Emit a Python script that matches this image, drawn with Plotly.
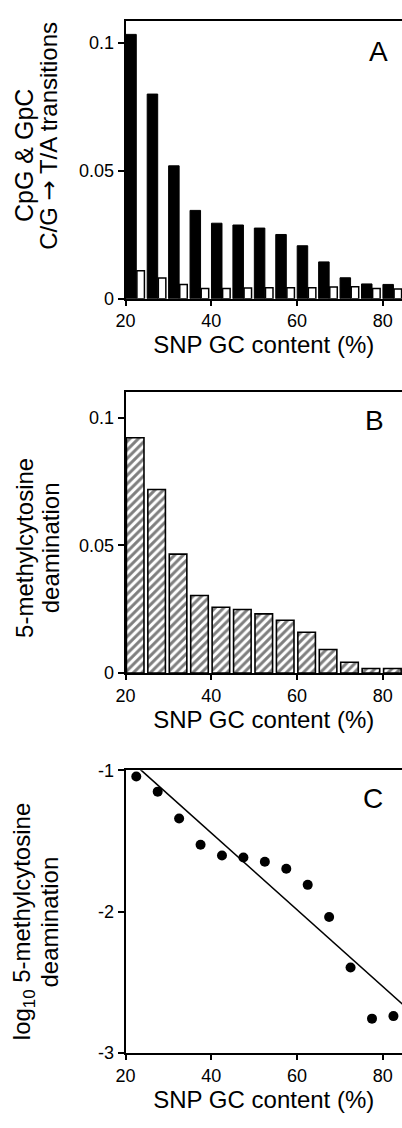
import plotly.graph_objects as go

# ---- data ----
bins = [20, 25, 30, 35, 40, 45, 50, 55, 60, 65, 70, 75, 80]
cpg_transitions = [0.1032, 0.0799, 0.0519, 0.0345, 0.0295, 0.0288, 0.0276,
                   0.0251, 0.0207, 0.0144, 0.0082, 0.0058, 0.0056]
other_transitions = [0.0109, 0.0081, 0.0056, 0.0040, 0.0040, 0.0042, 0.0043,
                     0.0043, 0.0043, 0.0046, 0.0047, 0.0040, 0.0038]
deamination = [0.0922, 0.0719, 0.0466, 0.0304, 0.0258, 0.0249, 0.0232,
               0.0207, 0.0160, 0.0092, 0.0042, 0.0018, 0.0018]
gc_centers = [22.5, 27.5, 32.5, 37.5, 42.5, 47.5, 52.5, 57.5, 62.5, 67.5,
              72.5, 77.5, 82.5]
log_deamination = [-1.044, -1.151, -1.341, -1.527, -1.603, -1.617, -1.647,
                   -1.696, -1.810, -2.037, -2.394, -2.756, -2.738]
fit_x = [20, 85]
fit_y = [-0.901, -2.664]

x_ticks = [20, 40, 60, 80]
bar_ticks = [0, 0.05, 0.1]
bar_ticktext = ["0", "0.05", "0.1"]
log_ticks = [-3, -2, -1]
log_ticktext = ["-3", "-2", "-1"]

FONT = "Liberation Sans, Arial, Helvetica, sans-serif"
W, H = 402, 1128

fig = go.Figure()

# Panel A
fig.add_trace(go.Bar(x=bins, y=cpg_transitions, offset=0.05, width=2.45,
                     marker=dict(color="black", line=dict(color="black", width=1)),
                     xaxis="x", yaxis="y", showlegend=False))
fig.add_trace(go.Bar(x=bins, y=other_transitions, offset=2.65, width=1.75,
                     marker=dict(color="white", line=dict(color="black", width=1.5)),
                     xaxis="x", yaxis="y", showlegend=False))
# Panel B
fig.add_trace(go.Bar(x=bins, y=deamination, offset=0.2, width=4.1,
                     marker=dict(color="white",
                                 pattern=dict(shape="/", fgcolor="black", bgcolor="white",
                                              size=6, solidity=0.5),
                                 line=dict(color="black", width=1.6)),
                     xaxis="x2", yaxis="y2", showlegend=False))
# Panel C
fig.add_trace(go.Scatter(x=fit_x, y=fit_y, mode="lines",
                         line=dict(color="black", width=1.6),
                         xaxis="x3", yaxis="y3", showlegend=False))
fig.add_trace(go.Scatter(x=gc_centers, y=log_deamination, mode="markers",
                         marker=dict(color="black", size=10), cliponaxis=False,
                         xaxis="x3", yaxis="y3", showlegend=False))

def pdom(top_px, bottom_px):
    return [1 - bottom_px / H, 1 - top_px / H]

xdom = [118.5 / W, 1.0]
xcommon = dict(range=[20, 84.5], domain=xdom, tickvals=x_ticks, ticks="outside",
               ticklen=5, tickwidth=1.5, tickcolor="black", showline=True,
               linecolor="black", linewidth=2, mirror=True, showgrid=False,
               zeroline=False, tickfont=dict(size=18, color="black", family=FONT),
               title=dict(text="SNP GC content (%)", standoff=4,
                          font=dict(size=24, color="black", family=FONT)))
ycommon = dict(ticks="outside", ticklen=6, tickwidth=1.5, tickcolor="black",
               showline=True, linecolor="black", linewidth=2, mirror=False,
               showgrid=False, zeroline=False,
               tickfont=dict(size=18, color="black", family=FONT))

fig.update_layout(
    width=W, height=H, margin=dict(l=0, r=0, t=0, b=0),
    paper_bgcolor="white", plot_bgcolor="white", barmode="overlay",
    font=dict(family=FONT, color="black"),
    xaxis=dict(**xcommon, anchor="y"),
    xaxis2=dict(**xcommon, anchor="y2"),
    xaxis3=dict(**xcommon, anchor="y3"),
    yaxis=dict(**ycommon, domain=pdom(11, 294), range=[0, 0.1085],
               tickvals=bar_ticks, ticktext=bar_ticktext, anchor="x"),
    yaxis2=dict(**ycommon, domain=pdom(389, 675), range=[0, 0.1101],
                tickvals=bar_ticks, ticktext=bar_ticktext, anchor="x2"),
    yaxis3=dict(**ycommon, domain=pdom(774, 1062), range=[-3, -1],
                tickvals=log_ticks, ticktext=log_ticktext, anchor="x3"),
)

def ann(text, x_px, y_px, size=24, angle=-90):
    fig.add_annotation(text=text, x=x_px / W, y=1 - y_px / H, xref="paper", yref="paper",
                       xanchor="center", yanchor="middle", showarrow=False,
                       textangle=angle, font=dict(size=size, color="black", family=FONT))

ARROW = '<span style="font-family:DejaVu Sans;color:black">\u2192</span>'

# y-axis titles
ann("CpG &amp; GpC", 15, 148, size=25)
ann("C/G " + ARROW + " T/A transitions", 40, 128)
ann("5-methylcytosine", 15, 548)
ann("deamination", 41, 547)
ann("log<sub>10</sub> 5-methylcytosine", 14, 928)
ann("deamination", 41, 928)

# panel letters
ann("A", 378, 42, size=28, angle=0)
ann("B", 374, 418, size=28, angle=0)
ann("C", 372, 803, size=28, angle=0)

fig.write_html("out.html")
